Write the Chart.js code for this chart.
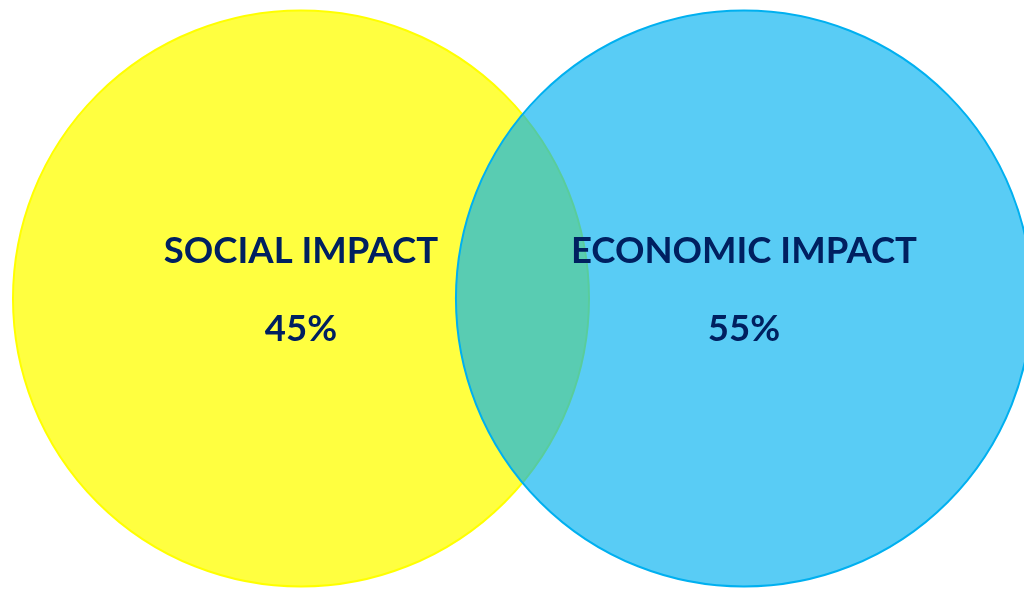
<!DOCTYPE html>
<html>
<head>
<meta charset="utf-8">
<script src="https://cdn.jsdelivr.net/npm/chart.js@4"></script>
<style>
  html, body { margin: 0; padding: 0; background: #ffffff; }
  #wrap { width: 1024px; height: 592px; }
</style>
</head>
<body>
<div id="wrap"><canvas id="venn" width="1024" height="592"></canvas></div>
<script>
// Two-set Venn: social vs. economic impact
const categories = ['SOCIAL IMPACT', 'ECONOMIC IMPACT'];
const shares = [45, 55];

// Layout in units of one circle radius
const RADIUS = 1;
const CENTER_DISTANCE = 1.538;

const fills = ['rgba(255, 255, 0, 0.75)', 'rgba(0, 176, 240, 0.65)'];
const strokes = ['#FFFF00', '#00B0F0'];
const textColor = '#002060';

const points = categories.map((name, i) => ({ x: i * CENTER_DISTANCE, y: 0, label: name, share: shares[i] }));

const vennLabels = {
  id: 'vennLabels',
  afterDatasetsDraw(chart) {
    const { ctx } = chart;
    const meta = chart.getDatasetMeta(0);
    ctx.save();
    ctx.fillStyle = textColor;
    ctx.textAlign = 'center';
    ctx.textBaseline = 'alphabetic';
    ctx.font = 'bold 36.5px Lato, "Open Sans", sans-serif';
    meta.data.forEach((el, i) => {
      const p = points[i];
      ctx.fillText(p.label, el.x, el.y - 36);
      ctx.fillText(p.share + '%', el.x, el.y + 42);
    });
    ctx.restore();
  }
};

const chart = new Chart(document.getElementById('venn'), {
  type: 'bubble',
  data: {
    datasets: [{
      data: points,
      backgroundColor: fills,
      borderColor: strokes,
      borderWidth: 2,
      clip: false
    }]
  },
  options: {
    responsive: false,
    animation: false,
    events: [],
    layout: { padding: 0, autoPadding: false },
    plugins: { legend: { display: false }, tooltip: { enabled: false } },
    scales: {
      x: { type: 'linear', display: false, min: -1.0451, max: 2.5104 },
      y: { type: 'linear', display: false, min: -1.019, max: 1.0365 }
    }
  },
  plugins: [vennLabels]
});

// Bubble radii are in pixels: convert one radius unit through the laid-out x scale
const xs = chart.scales.x;
const radiusPx = Math.abs(xs.getPixelForValue(RADIUS) - xs.getPixelForValue(0));
chart.data.datasets[0].data = points.map(p => ({ ...p, r: radiusPx }));
chart.update('none');
</script>
</body>
</html>
